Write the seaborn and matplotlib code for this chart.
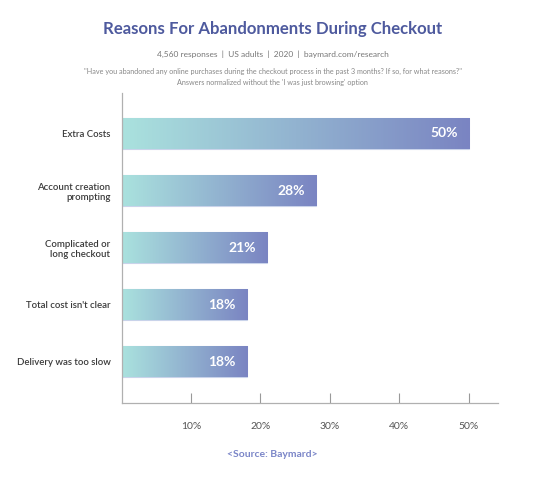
import numpy as np
import matplotlib
matplotlib.use("Agg")
import matplotlib.pyplot as plt
from matplotlib.colors import LinearSegmentedColormap
import seaborn as sns

# Data
reasons = ["Extra Costs", "Account creation\nprompting", "Complicated or\nlong checkout",
           "Total cost isn't clear", "Delivery was too slow"]
shares = [50, 28, 21, 18, 18]
tick_values = [10, 20, 30, 40, 50]
tick_labels = ["10%", "20%", "30%", "40%", "50%"]

sns.set_style("white")
plt.rcParams['font.family'] = ['Lato', 'DejaVu Sans']

fig = plt.figure(figsize=(5.45, 4.83), dpi=100)
ax = fig.add_axes([0.223, 0.1656, 0.691, 0.642])

sns.barplot(x=shares, y=reasons, orient="h", width=0.54, color="#8fa3c8", ax=ax)

# per-bar horizontal gradient teal -> purple
grad_cmap = LinearSegmentedColormap.from_list("bay", ["#aae2de", "#7a84c2"])
gradient = np.linspace(0, 1, 256).reshape(1, -1)
for p in ax.patches:
    x0, y0 = p.get_x(), p.get_y()
    w, h = p.get_width(), p.get_height()
    p.set_facecolor("none")
    p.set_edgecolor("#c9d3ea")
    p.set_linewidth(0.8)
    im = ax.imshow(gradient, extent=[x0, x0 + w, y0 + h, y0], aspect="auto",
                   cmap=grad_cmap, zorder=1.5)
    im.set_clip_path(p)

for i, v in enumerate(shares):
    ax.text(v - 1.6, i, f"{v}%", ha="right", va="center", color="white",
            fontsize=10, fontweight="bold", zorder=3)

ax.set_xlim(0, 54.2)
ax.set_ylim(len(reasons) - 1 + 0.72, -0.71)
ax.set_xticks(tick_values)
ax.set_xticklabels(tick_labels)
ax.tick_params(axis="x", bottom=True, direction="in", length=7, width=0.8, color="#999999",
               labelsize=7.5, labelcolor="#555555", pad=14)
ax.tick_params(axis="y", left=False, length=0, labelsize=6.9, labelcolor="#3a3a3a", pad=8)
for lbl in ax.get_yticklabels():
    lbl.set_fontweight("semibold")
    lbl.set_multialignment("right")
ax.set_xlabel("")
ax.set_ylabel("")
for side in ["top", "right"]:
    ax.spines[side].set_visible(False)
for side in ["left", "bottom"]:
    ax.spines[side].set_color("#b0b0b0")
    ax.spines[side].set_linewidth(0.9)

fig.text(0.5, 0.94, "Reasons For Abandonments During Checkout", ha="center", va="center",
         fontsize=12.1, fontweight="bold", color="#4e5a9e")
fig.text(0.5, 0.888, "4,560 responses  |  US adults  |  2020  |  baymard.com/research",
         ha="center", va="center", fontsize=6, color="#777777")
fig.text(0.5, 0.851, "\"Have you abandoned any online purchases during the checkout process in the past 3 months? If so, for what reasons?\"",
         ha="center", va="center", fontsize=5.2, color="#888888")
fig.text(0.5, 0.83, "Answers normalized without the 'I was just browsing' option",
         ha="center", va="center", fontsize=5.2, color="#888888")
fig.text(0.5, 0.06, "<Source: Baymard>", ha="center", va="center",
         fontsize=7.5, fontweight="bold", color="#7b86c8")

fig.savefig("out.png", dpi=100)
